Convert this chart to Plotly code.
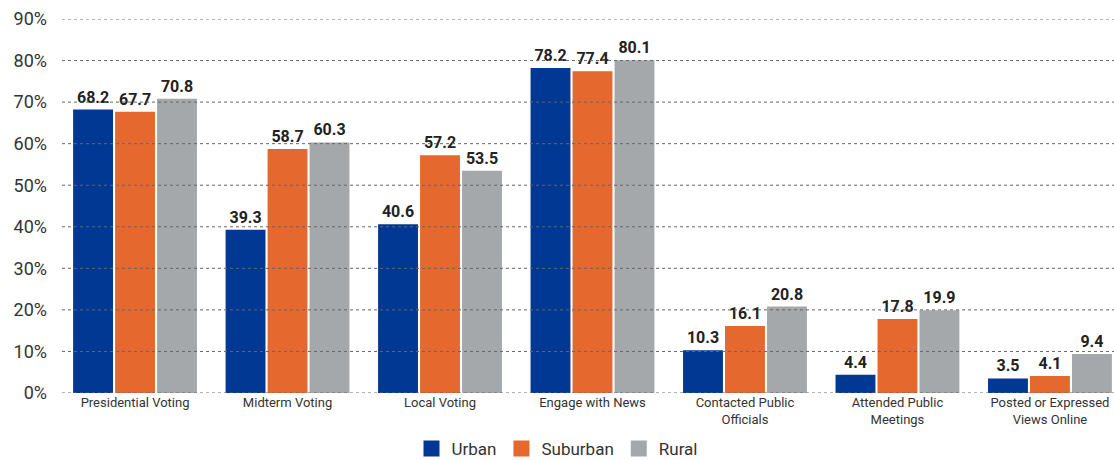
import plotly.graph_objects as go

categories = ["Presidential Voting", "Midterm Voting", "Local Voting", "Engage with News",
              "Contacted Public<br>Officials", "Attended Public<br>Meetings", "Posted or Expressed<br>Views Online"]
urban = [68.2, 39.3, 40.6, 78.2, 10.3, 4.4, 3.5]
suburban = [67.7, 58.7, 57.2, 77.4, 16.1, 17.8, 4.1]
rural = [70.8, 60.3, 53.5, 80.1, 20.8, 19.9, 9.4]
series = [("Urban", urban, "#003893"), ("Suburban", suburban, "#E5692E"), ("Rural", rural, "#A5A8AB")]
yticks = [0, 10, 20, 30, 40, 50, 60, 70, 80, 90]

fig = go.Figure()
for name, vals, color in series:
    fig.add_trace(go.Bar(
        x=categories, y=vals, name=name, marker_color=color, marker_line_width=0,
        text=[f"{v:.1f}" for v in vals], textposition="outside",
        textfont=dict(family="Roboto", size=16, color="#222222", weight="bold"),
        cliponaxis=False, textangle=0, showlegend=False, legendgroup=name,
    ))
# legend entries with larger square swatches
for name, vals, color in series:
    fig.add_trace(go.Scatter(
        x=[None], y=[None], mode="markers", name=name, legendgroup=name,
        marker=dict(symbol="square", size=16, color=color), showlegend=True,
    ))

for t in yticks:
    fig.add_shape(type="line", xref="paper", yref="y", x0=0, x1=1, y0=t, y1=t,
                  line=dict(color="#666666", width=1, dash="dot"), layer="above")

fig.update_layout(
    width=1114, height=460,
    margin=dict(l=62, r=0, t=19, b=67, autoexpand=False),
    paper_bgcolor="white", plot_bgcolor="white",
    barmode="group", bargap=0.174, bargroupgap=0.05,
    font=dict(family="Roboto", color="#333333"),
    xaxis=dict(range=[-0.479, 6.42], showgrid=False, showline=False, ticks="",
               tickfont=dict(size=13, color="#333333")),
    yaxis=dict(range=[0, 90], tickvals=yticks, ticktext=[f"{t}%" for t in yticks],
               showgrid=False, zeroline=False, showline=False,
               tickfont=dict(size=18, color="#333333"), ticklabelstandoff=14),
    legend=dict(orientation="h", x=0.5, xanchor="center", xref="container",
                y=0.024, yanchor="middle", yref="container", itemwidth=30,
                font=dict(size=17, color="#333333"), traceorder="normal"),
)
fig.write_html("out.html", config={"displayModeBar": False},
               post_script="document.body.style.margin='0';document.body.style.overflow='hidden';")
